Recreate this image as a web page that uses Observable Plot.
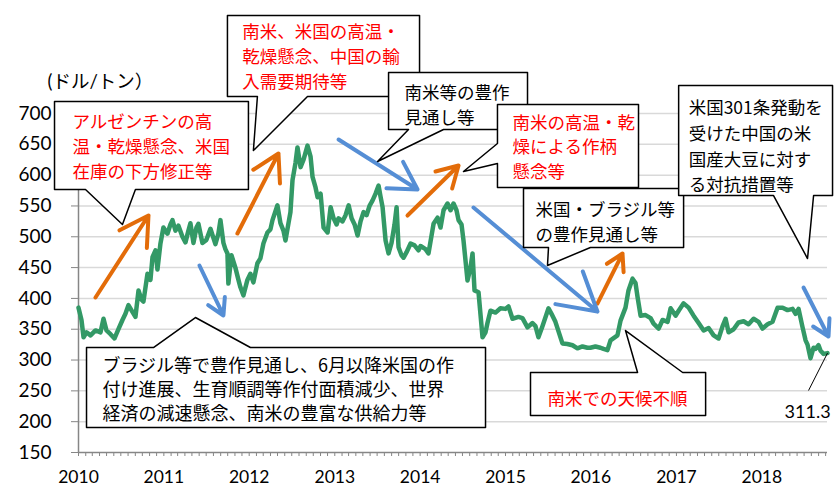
<!DOCTYPE html>
<html><head><meta charset="utf-8">
<script src="https://cdn.jsdelivr.net/npm/d3@7"></script>
<script src="https://cdn.jsdelivr.net/npm/@observablehq/plot@0.6"></script>
<style>body{margin:0;background:#fff}</style>
</head><body><div id="chart"></div>
<script>
// decimal-year timestamps of the series
const years = [
2010.000,2010.035,2010.059,2010.094,2010.141,2010.199,2010.258,2010.293,2010.328,2010.375,
2010.422,2010.468,2010.515,2010.550,2010.585,2010.632,2010.667,2010.703,2010.738,2010.761,
2010.808,2010.843,2010.867,2010.902,2010.925,2010.960,2010.995,2011.042,2011.077,2011.101,
2011.136,2011.171,2011.218,2011.253,2011.288,2011.311,2011.347,2011.382,2011.405,2011.452,
2011.499,2011.546,2011.604,2011.639,2011.663,2011.698,2011.721,2011.745,2011.756,2011.792,
2011.838,2011.874,2011.897,2011.932,2011.979,2012.014,2012.049,2012.096,2012.131,2012.166,
2012.213,2012.248,2012.272,2012.330,2012.365,2012.400,2012.424,2012.459,2012.482,2012.506,
2012.541,2012.564,2012.600,2012.635,2012.681,2012.717,2012.740,2012.775,2012.799,2012.834,
2012.869,2012.916,2012.951,2012.986,2013.021,2013.044,2013.091,2013.126,2013.162,2013.197,
2013.232,2013.267,2013.302,2013.337,2013.372,2013.407,2013.443,2013.478,2013.513,2013.536,
2013.560,2013.595,2013.630,2013.665,2013.700,2013.724,2013.747,2013.782,2013.806,2013.841,
2013.888,2013.934,2013.981,2014.005,2014.063,2014.098,2014.157,2014.204,2014.239,2014.274,
2014.321,2014.356,2014.391,2014.426,2014.450,2014.485,2014.508,2014.555,2014.590,2014.614,
2014.637,2014.684,2014.731,2014.766,2014.789,2014.824,2014.883,2014.941,2015.000,2015.035,
2015.082,2015.152,2015.199,2015.258,2015.316,2015.351,2015.386,2015.433,2015.504,2015.539,
2015.585,2015.667,2015.726,2015.785,2015.843,2015.902,2015.960,2015.995,2016.054,2016.112,
2016.148,2016.194,2016.230,2016.311,2016.347,2016.405,2016.440,2016.487,2016.522,2016.546,
2016.581,2016.639,2016.698,2016.733,2016.792,2016.838,2016.897,2016.932,2016.991,2017.026,
2017.084,2017.143,2017.201,2017.260,2017.319,2017.377,2017.436,2017.494,2017.541,2017.576,
2017.611,2017.670,2017.728,2017.787,2017.845,2017.904,2017.963,2018.009,2018.068,2018.126,
2018.185,2018.244,2018.302,2018.361,2018.396,2018.431,2018.478,2018.513,2018.536,2018.571,
2018.607,2018.630,2018.665,2018.689,2018.724,2018.770];
// price (USD/ton)
const prices = [
385,365,337,345,340,348,345,367,348,342,
335,350,365,375,389,378,370,413,398,395,
440,430,467,478,447,489,515,505,520,527,
510,518,500,491,510,522,490,515,521,490,
495,513,488,505,527,490,480,473,424,470,
450,430,418,405,430,440,426,457,465,489,
507,512,527,551,522,510,494,522,540,592,
620,645,613,625,648,630,597,580,564,570,
515,507,548,530,520,530,525,535,551,530,
520,502,525,540,535,550,559,570,583,565,
548,494,473,490,520,548,483,470,466,475,
489,486,478,485,480,473,521,531,515,543,
554,543,554,543,527,520,494,429,450,473,
413,410,337,345,360,380,377,384,383,387,
367,370,368,353,360,355,337,355,384,375,
362,327,326,324,319,322,320,320,322,320,
318,316,332,340,364,385,413,432,425,402,
372,373,368,359,351,365,362,384,372,380,
392,385,372,360,348,352,340,335,355,367,
345,350,361,363,358,367,362,351,358,362,
385,385,381,383,375,383,353,332,325,303,
320,318,324,315,310,311.3];

const yTicks = [150,200,250,300,350,400,450,500,550,600,650,700];
const gridValues = [200,250,300,350,400,450,500,550,600,650,700];
const unitLabel = "(ドル/トン）";
const RED = "#ff0000", BLACK = "#000000";

// callout bubbles: box (x in decimal years, y in price), pointer, text anchor
const callouts = [
 {text:"アルゼンチンの高\n温・乾燥懸念、米国\n在庫の下方修正等", color:RED, x1:2009.719, x2:2011.991, y1:719.4, y2:576.7, side:"bottom", p1:2010.082, p2:2010.667, tx:2010.515, ty:519.9, textX:2009.930, textY:648.9, lh:1.42, fs:17.5},
 {text:"南米、米国の高温・\n乾燥懸念、中国の輸\n入需要期待等", color:RED, x1:2011.745, x2:2013.993, y1:859.0, y2:727.5, side:"bottom", p1:2012.096, p2:2012.681, tx:2012.049, ty:639.9, textX:2011.920, textY:794.9, lh:1.42, fs:17.5},
 {text:"南米等の豊作\n見通し等", color:BLACK, x1:2013.630, x2:2015.258, y1:766.5, y2:674.0, side:"bottom", p1:2013.864, p2:2014.274, tx:2013.501, ty:622.1, textX:2013.817, textY:716.2, lh:1.45, fs:17.5},
 {text:"南米の高温・乾\n燥による作柄\n懸念等", color:RED, x1:2014.906, x2:2016.557, y1:714.6, y2:579.9, side:"left", p1:651.3, p2:618.9, tx:2014.508, ty:605.9, textX:2015.082, textY:648.1, lh:1.42, fs:17.5},
 {text:"米国・ブラジル等\nの豊作見通し等", color:BLACK, x1:2015.211, x2:2017.084, y1:578.3, y2:482.6, side:"bottom", p1:2015.504, p2:2015.995, tx:2015.492, ty:453.4, textX:2015.351, textY:526.4, lh:1.4, fs:17.5},
 {text:"米国301条発動を\n受けた中国の米\n国産大豆に対す\nる対抗措置等", color:BLACK, x1:2017.026, x2:2018.829, y1:745.4, y2:566.9, side:"bottom", p1:2018.138, p2:2018.607, tx:2018.536, ty:464.7, textX:2017.143, textY:649.7, lh:1.47, fs:17.5},
 {text:"ブラジル等で豊作見通し、6月以降米国の作\n付け進展、生育順調等作付面積減少、世界\n経済の減速懸念、南米の豊富な供給力等", color:BLACK, x1:2010.094, x2:2014.766, y1:320.3, y2:190.6, side:"top", p1:2010.878, p2:2012.014, tx:2011.370, ty:369.0, textX:2010.281, textY:253.8, lh:1.33, fs:18},
 {text:"南米での天候不順", color:RED, x1:2015.293, x2:2017.342, y1:279.8, y2:210.0, side:"top", p1:2016.546, p2:2017.073, tx:2016.405, ty:347.9, textX:2015.492, textY:239.2, lh:1.4, fs:17.5}
];

// trend arrows [x1, y1, x2, y2] in decimal years / price
const arrowsOrange = [[2010.199,401.5,2010.820,534.5],[2011.862,505.3,2012.342,635.1],[2013.852,534.5,2014.450,615.6],[2016.077,391.7,2016.370,472.8]];
const arrowsBlue = [[2011.417,453.4,2011.698,372.3],[2013.044,657.8,2013.970,576.7],[2014.625,547.5,2016.077,378.7],[2018.489,417.7,2018.782,338.2]];

const unitPos = {x:2009.637, y:750.3};
const lastLabelPos = {x:2018.806, y:214.9};
const leaderEnd = {x:2018.548, y:250.6};

const toDate = t => { const y = Math.floor(t); const a = Date.UTC(y,0,1), b = Date.UTC(y+1,0,1); return new Date(a + (t - y) * (b - a)); };

const series = years.map((t, i) => ({date: toDate(t), price: prices[i]}));
const last = series[series.length - 1];
const x0 = toDate(2010), x1 = last.date;
const monthTicks = d3.utcMonth.range(x0, new Date(+x1 + 1));
const yearFmt = d => d.getUTCMonth() === 0 ? String(d.getUTCFullYear()) : "";

function bubble(c, id) {
  let pts;
  if (c.side === "bottom") pts = [[c.x1,c.y1],[c.x2,c.y1],[c.x2,c.y2],[c.p2,c.y2],[c.tx,c.ty],[c.p1,c.y2],[c.x1,c.y2]];
  else if (c.side === "top") pts = [[c.x1,c.y1],[c.p1,c.y1],[c.tx,c.ty],[c.p2,c.y1],[c.x2,c.y1],[c.x2,c.y2],[c.x1,c.y2]];
  else pts = [[c.x1,c.y1],[c.x2,c.y1],[c.x2,c.y2],[c.x1,c.y2],[c.x1,c.p2],[c.tx,c.ty],[c.x1,c.p1]];
  return pts.map(([x, y]) => ({id, x: toDate(x), y}));
}
const bubblePts = callouts.flatMap((c, i) => bubble(c, i));
const toArrow = a => ({x1: toDate(a[0]), y1: a[1], x2: toDate(a[2]), y2: a[3]});

const FONT = "Lato, 'Noto Sans CJK JP', sans-serif";
const JFONT = "'Noto Sans CJK JP', sans-serif";

const hasAxisMarks = typeof Plot.axisX === "function";
const axisMarks = hasAxisMarks ? [
  Plot.axisY({ticks: yTicks, tickSize: 7, tickPadding: 20, fontSize: 19, fill: "black", stroke: "#868686", label: null}),
  Plot.axisX({ticks: monthTicks, tickSize: 4, tickPadding: 14, tickFormat: yearFmt, fontSize: 17.5, fill: "black", stroke: "#868686", label: null})
] : [];

const plot = Plot.plot({
  width: 836, height: 489,
  marginLeft: 78, marginRight: 9, marginTop: 113, marginBottom: 37,
  style: {background: "white", color: "#868686", fontFamily: FONT, fontSize: "18px", overflow: "visible"},
  x: {type: "utc", domain: [x0, x1], ticks: monthTicks, tickSize: 4, tickPadding: 14, tickFormat: yearFmt, label: null},
  y: {domain: [150, 700], ticks: yTicks, tickSize: 7, tickPadding: 20, label: null},
  marks: [
    Plot.ruleY(gridValues, {stroke: "#d9d9d9", strokeWidth: 1.5}),
    ...axisMarks,
    Plot.ruleY([150], {stroke: "#868686", strokeWidth: 1.5}),
    Plot.ruleX([x0], {stroke: "#868686", strokeWidth: 1.5}),
    Plot.line(series, {x: "date", y: "price", stroke: "#339966", strokeWidth: 4.5, strokeLinejoin: "round"}),
    Plot.arrow(arrowsOrange.map(toArrow), {x1: "x1", y1: "y1", x2: "x2", y2: "y2", stroke: "#e36c09", strokeWidth: 4, headLength: 16}),
    Plot.arrow(arrowsBlue.map(toArrow), {x1: "x1", y1: "y1", x2: "x2", y2: "y2", stroke: "#558ed5", strokeWidth: 4, headLength: 16}),
    Plot.line(bubblePts, {x: "x", y: "y", z: "id", curve: "linear-closed", fill: "white", stroke: "black", strokeWidth: 1.5}),
    ...callouts.map(c => Plot.text([c], {x: d => toDate(d.textX), y: "textY", text: "text", fill: c.color,
        textAnchor: "start", lineAnchor: "middle", lineHeight: c.lh, fontSize: c.fs, fontFamily: JFONT})),
    Plot.text([unitLabel], {x: () => toDate(unitPos.x), y: () => unitPos.y, text: d => d, fill: "black",
        textAnchor: "start", lineAnchor: "middle", fontSize: 18.5, fontFamily: FONT}),
    Plot.link([last], {x1: "date", y1: "price", x2: () => toDate(leaderEnd.x), y2: () => leaderEnd.y, stroke: "black", strokeWidth: 1}),
    Plot.text([last], {x: () => toDate(lastLabelPos.x), y: () => lastLabelPos.y, text: d => d3.format(".1f")(d.price),
        fill: "black", textAnchor: "end", lineAnchor: "middle", fontSize: 18, fontFamily: FONT})
  ]
});

if (!hasAxisMarks) {
  plot.querySelectorAll('[aria-label^="y-axis"] text').forEach(t => { t.setAttribute("fill", "#000"); t.setAttribute("font-size", "19"); });
  plot.querySelectorAll('[aria-label^="x-axis"] text').forEach(t => { t.setAttribute("fill", "#000"); t.setAttribute("font-size", "17.5"); });
}
document.getElementById("chart").appendChild(plot);
</script>
</body></html>
